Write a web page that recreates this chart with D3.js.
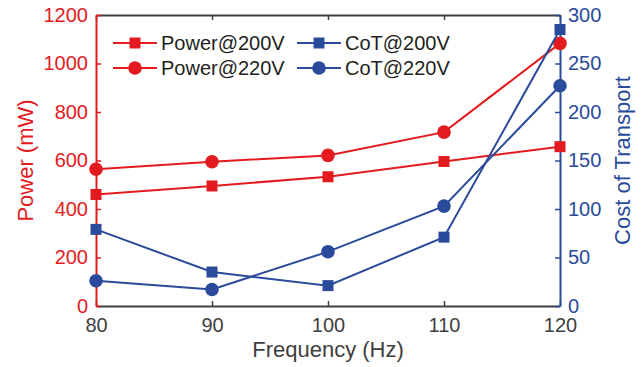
<!DOCTYPE html>
<html>
<head>
<meta charset="utf-8">
<script src="https://cdn.jsdelivr.net/npm/d3@7"></script>
<style>
  body { margin: 0; background: #fff; }
  svg { font-family: "Liberation Sans", Arial, sans-serif; }
</style>
</head>
<body>
<svg id="chart" width="644" height="367"></svg>
<script>
const freqs = [80, 90, 100, 110, 120];
const power200 = [460, 495, 533, 596, 657];
const power220 = [564, 595, 621, 717, 1083];
const cot200 = [79, 35, 21, 71, 285];
const cot220 = [26, 17, 56, 103, 227];
const leftTicks = [0, 200, 400, 600, 800, 1000, 1200];
const rightTicks = [0, 50, 100, 150, 200, 250, 300];

const RED = "#e31b1f";
const BLUE = "#2a4b9b";
const GRAY = "#404040";

const svg = d3.select("#chart");
const margin = {top: 15, right: 84, bottom: 61, left: 96};
const width = 644, height = 367;
const innerW = width - margin.left - margin.right;
const innerH = height - margin.top - margin.bottom;

const x = d3.scaleLinear().domain([80, 120]).range([0, innerW]);
const yL = d3.scaleLinear().domain([0, 1200]).range([innerH, 0]);
const yR = d3.scaleLinear().domain([0, 300]).range([innerH, 0]);

const g = svg.append("g").attr("transform", `translate(${margin.left},${margin.top})`);

// axes
const styleAxis = (sel, color) => {
    sel.select(".domain").attr("stroke", color).attr("stroke-width", 2);
    sel.selectAll(".tick line").attr("stroke", color).attr("stroke-width", 1.5);
    sel.selectAll(".tick text").attr("fill", color).style("font-size", "20px");
};

g.append("g").attr("transform", `translate(0,${innerH})`)
    .call(d3.axisBottom(x).tickValues(freqs).tickSize(-5).tickSizeOuter(0).tickPadding(12))
    .call(s => styleAxis(s, GRAY));
g.append("g")
    .call(d3.axisTop(x).tickValues(freqs).tickSize(-5).tickSizeOuter(0).tickFormat(""))
    .call(s => styleAxis(s, GRAY));
g.append("g")
    .call(d3.axisLeft(yL).tickValues(leftTicks).tickSize(-5).tickSizeOuter(0).tickPadding(8).tickFormat(d3.format("d")))
    .call(s => styleAxis(s, RED));
g.append("g").attr("transform", `translate(${innerW},0)`)
    .call(d3.axisRight(yR).tickValues(rightTicks).tickSize(-5).tickSizeOuter(0).tickPadding(8).tickFormat(d3.format("d")))
    .call(s => styleAxis(s, BLUE));

// series
const series = [
    {name: "Power@200V", vals: power200, y: yL, color: RED, shape: "square"},
    {name: "Power@220V", vals: power220, y: yL, color: RED, shape: "circle"},
    {name: "CoT@200V", vals: cot200, y: yR, color: BLUE, shape: "square"},
    {name: "CoT@220V", vals: cot220, y: yR, color: BLUE, shape: "circle"}
];

const drawMarker = (sel, shape, color, cx, cy) => {
    if (shape === "square") {
        sel.append("rect").attr("x", cx - 5.5).attr("y", cy - 5.5)
            .attr("width", 11).attr("height", 11).attr("fill", color);
    } else {
        sel.append("circle").attr("cx", cx).attr("cy", cy).attr("r", 6.8).attr("fill", color);
    }
};

series.forEach(s => {
    const pts = freqs.map((f, i) => [f, s.vals[i]]);
    g.append("path").datum(pts)
        .attr("fill", "none").attr("stroke", s.color).attr("stroke-width", 2)
        .attr("d", d3.line().x(d => x(d[0])).y(d => s.y(d[1])));
    const mg = g.append("g");
    pts.forEach(d => drawMarker(mg, s.shape, s.color, x(d[0]), s.y(d[1])));
});

// legend
const legend = svg.append("g");
series.forEach((s, i) => {
    const col = i < 2 ? 0 : 1;
    const row = i % 2;
    const lx = col === 0 ? 113 : 297;
    const ly = 43 + row * 25;
    legend.append("line").attr("x1", lx).attr("x2", lx + 44).attr("y1", ly).attr("y2", ly)
        .attr("stroke", s.color).attr("stroke-width", 2);
    drawMarker(legend, s.shape, s.color, lx + 22, ly);
    legend.append("text").attr("x", lx + 48).attr("y", ly).attr("dy", "0.35em")
        .attr("fill", "#231f20").style("font-size", "20px").text(s.name);
});

// axis labels
svg.append("text").attr("x", margin.left + innerW / 2).attr("y", 357)
    .attr("text-anchor", "middle").attr("fill", GRAY).style("font-size", "22px")
    .text("Frequency (Hz)");
svg.append("text").attr("transform", `translate(33,${margin.top + innerH / 2}) rotate(-90)`)
    .attr("text-anchor", "middle").attr("fill", RED).style("font-size", "22px")
    .text("Power (mW)");
svg.append("text").attr("transform", `translate(630,${margin.top + innerH / 2}) rotate(-90)`)
    .attr("text-anchor", "middle").attr("fill", BLUE).style("font-size", "22px")
    .text("Cost of Transport");
</script>
</body>
</html>
